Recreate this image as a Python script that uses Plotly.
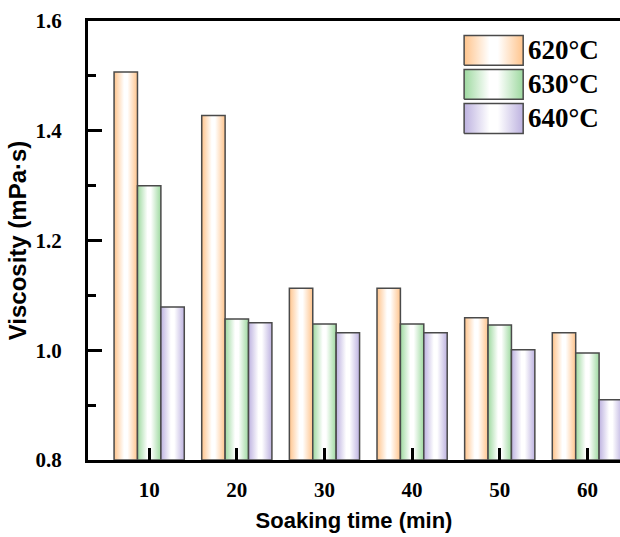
import plotly.graph_objects as go

# Soaking time categories (min) and viscosity (mPa·s) per melt temperature
soak_time = [10, 20, 30, 40, 50, 60]
series_names = ["620°C", "630°C", "640°C"]
visc_620 = [1.507, 1.428, 1.113, 1.113, 1.059, 1.032]
visc_630 = [1.300, 1.057, 1.048, 1.048, 1.046, 0.995]
visc_640 = [1.079, 1.050, 1.032, 1.032, 1.001, 0.910]
y_ticks = [0.8, 1.0, 1.2, 1.4, 1.6]

edge_colors = ["#FFC48C", "#9ED9A0", "#BDB2E0"]
outline = "#4a4a4a"
bar_w = 2.67          # width of one bar in minutes
y_base = 0.8          # bars rise from the bottom of the value axis


def gradient(c):
    return dict(type="horizontal",
                colorscale=[[0, c], [0.43, "#ffffff"], [0.57, "#ffffff"], [1, c]])


fig = go.Figure()

all_series = [visc_620, visc_630, visc_640]
for k, (name, vals, col) in enumerate(zip(series_names, all_series, edge_colors)):
    offset = (k - 1) * bar_w
    for t, v in zip(soak_time, vals):
        x0 = t + offset - bar_w / 2
        x1 = t + offset + bar_w / 2
        fig.add_trace(go.Scatter(
            x=[x0, x0, x1, x1, x0],
            y=[y_base, v, v, y_base, y_base],
            mode="lines", fill="toself", fillgradient=gradient(col),
            line=dict(color=outline, width=1.5),
            name=name, showlegend=False, hoverinfo="skip",
        ))

# Legend: gradient swatches on an overlay axis spanning the plot area
sw_x0, sw_x1 = 0.707, 0.818
sw_top, sw_h, sw_pitch = 0.967, 0.068, 0.0775
for k, (name, col) in enumerate(zip(series_names, edge_colors)):
    top = sw_top - k * sw_pitch
    bot = top - sw_h
    fig.add_trace(go.Scatter(
        x=[sw_x0, sw_x0, sw_x1, sw_x1, sw_x0],
        y=[bot, top, top, bot, bot],
        xaxis="x2", yaxis="y2",
        mode="lines", fill="toself", fillgradient=gradient(col),
        line=dict(color=outline, width=1.5),
        showlegend=False, hoverinfo="skip",
    ))
    fig.add_annotation(
        x=sw_x1 + 0.006, y=(top + bot) / 2, xref="x2", yref="y2",
        text=name, showarrow=False, xanchor="left", yanchor="middle",
        font=dict(family="Liberation Serif", size=27, color="black", weight="bold"),
    )

tick_font = dict(family="Liberation Serif", size=21, color="black", weight="bold")
title_font = dict(family="Liberation Sans", color="black", weight="bold")

fig.update_layout(
    width=620, height=537,
    margin=dict(l=88, r=0, t=21, b=77),
    paper_bgcolor="white", plot_bgcolor="white",
    showlegend=False,
    xaxis=dict(
        range=[3.02, 63.72], tickvals=soak_time, ticktext=[str(t) for t in soak_time],
        ticks="inside", ticklen=12, tickwidth=2.5, tickcolor="black",
        showline=True, linewidth=3, linecolor="black", mirror=True,
        showgrid=False, zeroline=False, tickfont=tick_font, ticklabelstandoff=9,
        title=dict(text="Soaking time (min)", font=dict(size=22, **title_font), standoff=12),
    ),
    yaxis=dict(
        range=[0.8, 1.6], tickvals=y_ticks, ticktext=[f"{v:.1f}" for v in y_ticks],
        ticks="inside", ticklen=14, tickwidth=3, tickcolor="black",
        minor=dict(dtick=0.1, tick0=0.8, ticks="inside", ticklen=8, tickwidth=3,
                   tickcolor="black", showgrid=False),
        showline=True, linewidth=3, linecolor="black", mirror=False,
        showgrid=False, zeroline=False, tickfont=tick_font, ticklabelstandoff=19,
        title=dict(text="Viscosity (mPa·s)", font=dict(size=24, **title_font), standoff=3),
    ),
    xaxis2=dict(overlaying="x", range=[0, 1], visible=False, fixedrange=True),
    yaxis2=dict(overlaying="y", range=[0, 1], visible=False, fixedrange=True),
)

fig.write_html("out.html")
